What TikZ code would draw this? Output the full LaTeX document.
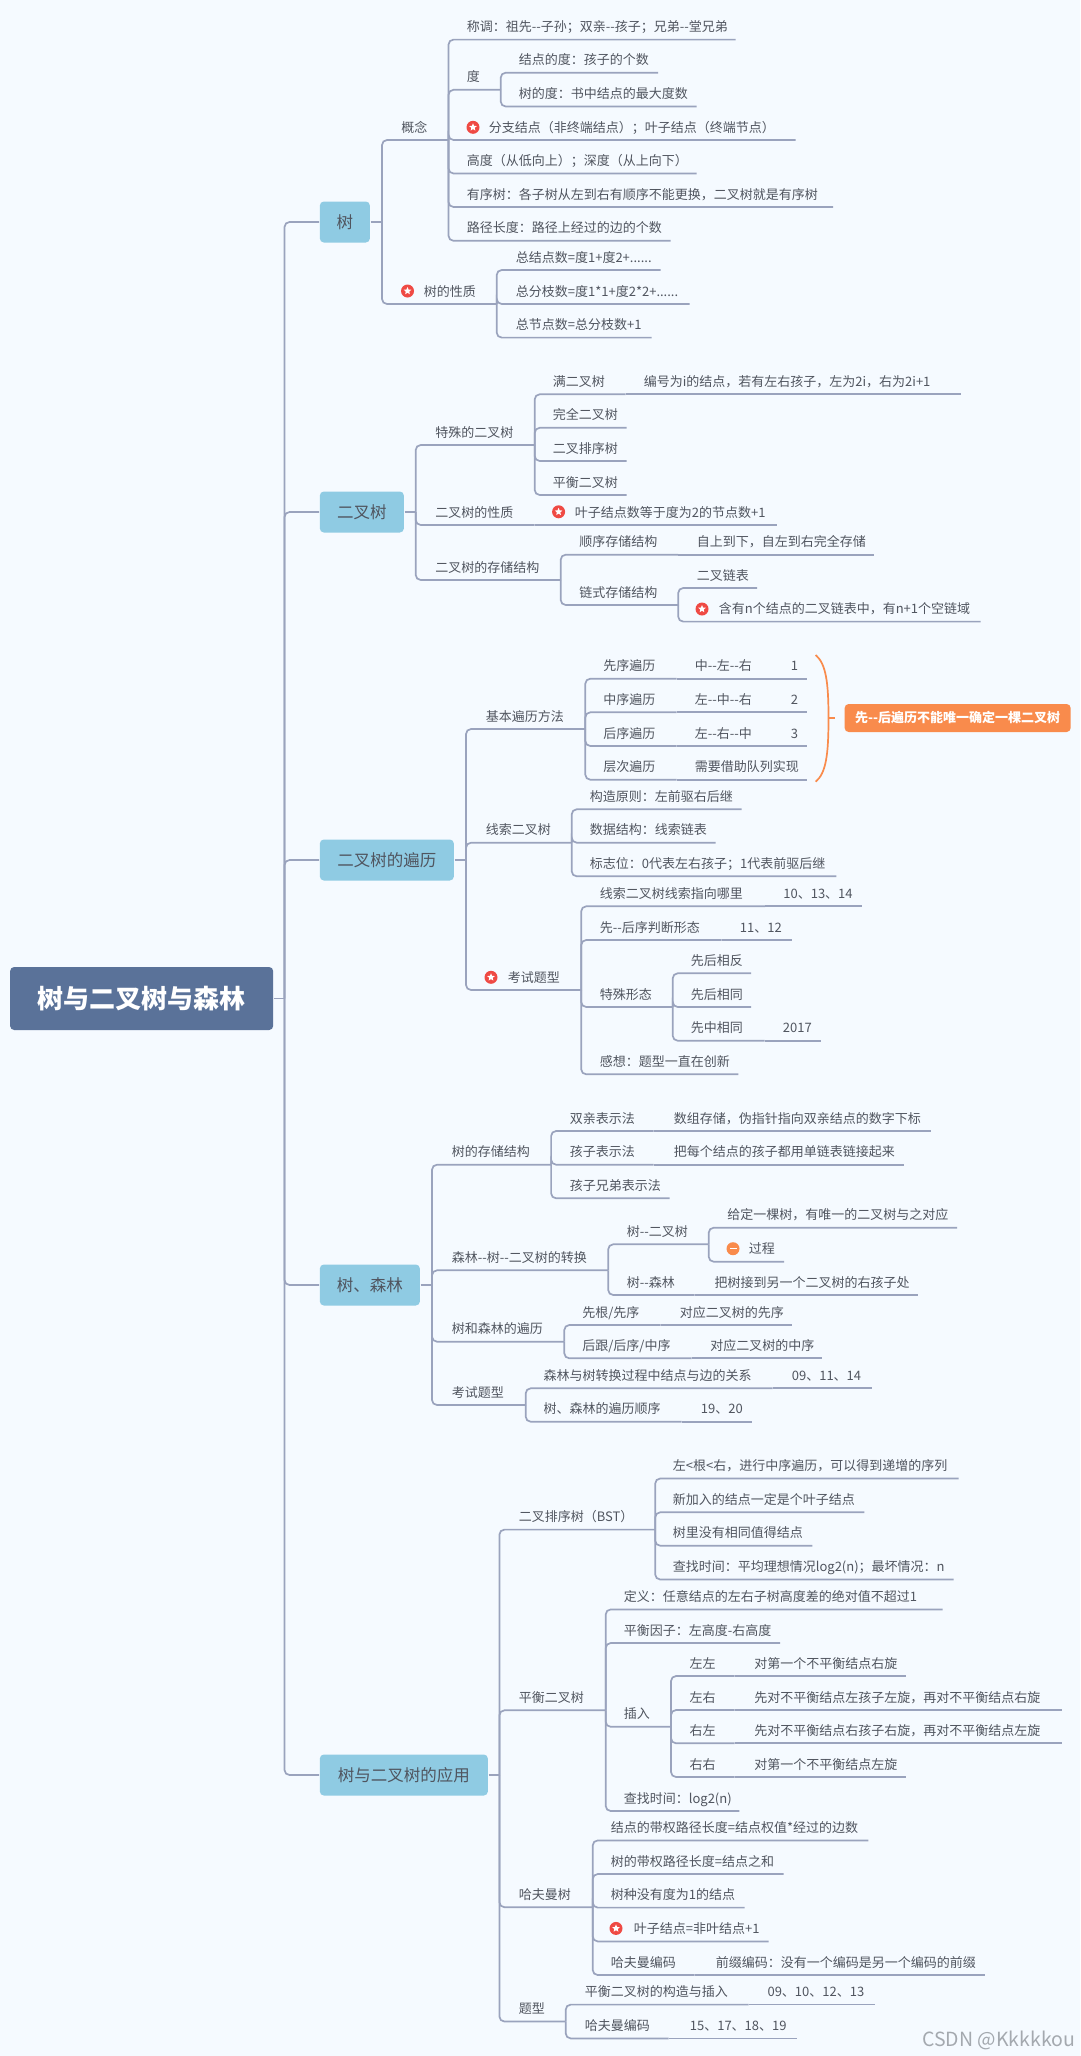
\documentclass[tikz,border=0pt]{standalone}
\usepackage{fontspec}
\setmainfont{Noto Sans CJK SC}
\usetikzlibrary{shapes.geometric}
\definecolor{pagebg}{HTML}{F5FAFF}
\definecolor{linegray}{HTML}{9AA3BD}
\definecolor{textgray}{HTML}{50555F}
\definecolor{boxblue}{HTML}{8FCBE3}
\definecolor{boxdark}{HTML}{5A7299}
\definecolor{noteorange}{HTML}{F98B4C}
\definecolor{iconred}{HTML}{EF4A44}
\definecolor{markgray}{HTML}{A4A9AF}

\begin{document}
\begin{tikzpicture}[x=1pt, y=-1pt, line width=1.7pt, font=\fontsize{13}{16}\selectfont,
  topic/.style={anchor=south west, inner xsep=0pt, inner ysep=4pt, text height=11pt, text depth=3pt,
    align=left, text=textgray, text width=#1pt},
  branch/.style={linegray, rounded corners=5pt},
  mainbox/.style={anchor=west, fill=boxblue, rounded corners=4pt, inner sep=0pt, minimum height=41pt,
    text=textgray, font=\fontsize{16.5}{20}\selectfont, minimum width=#1pt},
  rootbox/.style={anchor=west, fill=boxdark, rounded corners=4pt, inner sep=0pt, minimum height=63pt,
    minimum width=263pt, text=white, font=\fontsize{26}{30}\selectfont\bfseries},
  notebox/.style={anchor=west, fill=noteorange, rounded corners=4pt, inner sep=0pt, minimum height=28pt,
    minimum width=226pt, text=white, font=\fontsize{13}{16}\selectfont\bfseries},
  starmark/.style={circle, fill=iconred, minimum size=13pt, inner sep=0pt, path picture={
    \node[star, star points=5, star point ratio=2.2, fill=white, inner sep=0pt, minimum size=8pt]
      at (path picture bounding box.center) {};}},
  minusmark/.style={circle, fill=noteorange, minimum size=13pt, inner sep=0pt, path picture={
    \fill[white] ([shift={(-3.5pt,-0.7pt)}]path picture bounding box.center) rectangle ++(7pt,1.4pt);}}]
  \fill[pagebg] (0,0) rectangle (1080,2056);

  % centre
  \node[rootbox] (root) at (9.3,998.5) {树与二叉树与森林};
  \coordinate (rootT) at (284.5,998.5);
  \draw[linegray] (root.east) -- (rootT);
  \node[mainbox=50] (shu) at (319,222) {树};
  \node[mainbox=84] (erchashu) at (319,512) {二叉树};
  \node[mainbox=134] (bianli) at (319,860) {二叉树的遍历};
  \node[mainbox=100] (senlin) at (319,1285) {树、森林};
  \node[mainbox=168] (yingyong) at (319,1775) {树与二叉树的应用};
  \draw[branch] (rootT) |- (shu.west);
  \draw[branch] (rootT) |- (erchashu.west);
  \draw[branch] (rootT) |- (bianli.west);
  \draw[branch] (rootT) |- (senlin.west);
  \draw[branch] (rootT) |- (yingyong.west);

  % tree
  \coordinate (shuT) at (382,222);
  \draw[linegray] (shu.east) -- (shuT);
  \node[topic=46.4] (gainian) at (400.4,140) {概念};
  \draw[branch] (shuT) |- (gainian.south east);
  \node[topic=268] (chengwei) at (466,39.6) {称调：祖先-{}-子孙；双亲-{}-孩子；兄弟-{}-堂兄弟};
  \node[topic=33] (du) at (466,89.8) {度};
  \node[topic=138.5] (jiedu) at (518,72.7) {结点的度：孩子的个数};
  \node[topic=177] (shudu) at (518,106.5) {树的度：书中结点的最大度数};
  \node[starmark] (fenzhiM) at (473,127.3) {};
  \node[topic=306] (fenzhi) at (488,140) {分支结点（非终端结点）；叶子结点（终端节点）};
  \node[topic=229] (gaodu) at (466,173.5) {高度（从低向上）；深度（从上向下）};
  \node[topic=365.5] (youxu) at (466,207) {有序树：各子树从左到右有顺序不能更换，二叉树就是有序树};
  \node[topic=203] (lujing) at (466,240.8) {路径长度：路径上经过的边的个数};
  \draw[branch] (gainian.south east) |- (chengwei.south east);
  \draw[branch] (gainian.south east) |- (du.south east);
  \draw[branch] (du.south east) |- (jiedu.south east);
  \draw[branch] (du.south east) |- (shudu.south east);
  \draw[branch] (gainian.south east) |- (fenzhi.south east);
  \draw[branch] (gainian.south east) |- (gaodu.south east);
  \draw[branch] (gainian.south east) |- (youxu.south east);
  \draw[branch] (gainian.south east) |- (lujing.south east);
  \node[starmark] (xingzhiM) at (407.5,291) {};
  \node[topic=72] (xingzhi) at (423,304) {树的性质};
  \node[topic=144] (zongjie) at (515,270) {总结点数=度1+度2+......};
  \node[topic=173] (zongfen) at (515,304) {总分枝数=度1*1+度2*2+......};
  \node[topic=135] (zongjd) at (515,337.6) {总节点数=总分枝数+1};
  \draw[branch] (shuT) |- (xingzhi.south east);
  \draw[branch] (xingzhi.south east) |- (zongjie.south east);
  \draw[branch] (xingzhi.south east) |- (zongfen.south east);
  \draw[branch] (xingzhi.south east) |- (zongjd.south east);

  % binary tree
  \coordinate (erchaT) at (415.7,512);
  \draw[linegray] (erchashu.east) -- (erchaT);
  \node[topic=98.4] (teshu) at (434.6,445) {特殊的二叉树};
  \node[topic=72] (man) at (552,394.3) {满二叉树};
  \node[topic=316.6] (bianhao) at (643,394.3) {编号为i的结点，若有左右孩子，左为2i，右为2i+1};
  \node[topic=73] (wanquan) at (552,427.8) {完全二叉树};
  \node[topic=73] (paixu) at (552,461) {二叉排序树};
  \node[topic=73] (pingheng) at (552,495) {平衡二叉树};
  \draw[branch] (erchaT) |- (teshu.south east);
  \draw[branch] (teshu.south east) |- (man.south east);
  \draw[branch] (man.south east) -- (bianhao.south east);
  \draw[branch] (teshu.south east) |- (wanquan.south east);
  \draw[branch] (teshu.south east) |- (paixu.south east);
  \draw[branch] (teshu.south east) |- (pingheng.south east);
  \node[topic=98.4] (erxing) at (434.6,525) {二叉树的性质};
  \node[starmark] (yeshuM) at (558.6,511.8) {};
  \node[topic=201] (yeshu) at (574,525) {叶子结点数等于度为2的节点数+1};
  \draw[branch] (erchaT) |- (erxing.south east);
  \draw[branch] (erxing.south east) -- (yeshu.south east);
  \node[topic=124.4] (cunchu) at (434.6,580) {二叉树的存储结构};
  \node[topic=98] (shunxu) at (578.5,554.7) {顺序存储结构};
  \node[topic=176] (zishang) at (696,554.7) {自上到下，自左到右完全存储};
  \node[topic=98] (lianshi) at (578.5,605) {链式存储结构};
  \node[topic=59.5] (erlian) at (696,588) {二叉链表};
  \node[starmark] (hanyouM) at (702,609) {};
  \node[topic=261] (hanyou) at (718,621.6) {含有n个结点的二叉链表中，有n+1个空链域};
  \draw[branch] (erchaT) |- (cunchu.south east);
  \draw[branch] (cunchu.south east) |- (shunxu.south east);
  \draw[branch] (shunxu.south east) -- (zishang.south east);
  \draw[branch] (cunchu.south east) |- (lianshi.south east);
  \draw[branch] (lianshi.south east) |- (erlian.south east);
  \draw[branch] (lianshi.south east) |- (hanyou.south east);

  % traversal
  \coordinate (bianliT) at (466,860);
  \draw[linegray] (bianli.east) -- (bianliT);
  \node[topic=98.6] (jiben) at (485,729) {基本遍历方法};
  \node[topic=72.5] (xianxu) at (602.5,678.7) {先序遍历};
  \node[topic=74] (xianshun) at (694,678.7) {中-{}-左-{}-右};
  \node[topic=15.5] (xiannum) at (790,678.7) {1};
  \node[topic=72.5] (zhongxu) at (602.5,712.3) {中序遍历};
  \node[topic=74] (zhongshun) at (694,712.3) {左-{}-中-{}-右};
  \node[topic=15.5] (zhongnum) at (790,712.3) {2};
  \node[topic=72.5] (houxu) at (602.5,746) {后序遍历};
  \node[topic=74] (houshun) at (694,746) {左-{}-右-{}-中};
  \node[topic=15.5] (hounum) at (790,746) {3};
  \node[topic=72.5] (cengci) at (602.5,779.7) {层次遍历};
  \node[topic=111.5] (duilie) at (694,779.7) {需要借助队列实现};
  \draw[branch] (bianliT) |- (jiben.south east);
  \draw[branch] (jiben.south east) |- (xianxu.south east);
  \draw[branch] (xianxu.south east) -- (xianshun.south east) -- (xiannum.south east);
  \draw[branch] (jiben.south east) |- (zhongxu.south east);
  \draw[branch] (zhongxu.south east) -- (zhongshun.south east) -- (zhongnum.south east);
  \draw[branch] (jiben.south east) |- (houxu.south east);
  \draw[branch] (houxu.south east) -- (houshun.south east) -- (hounum.south east);
  \draw[branch] (jiben.south east) |- (cengci.south east);
  \draw[branch] (cengci.south east) -- (duilie.south east);
  \node[notebox] (zhushi) at (843.8,718) {先-{}-后遍历不能唯一确定一棵二叉树};
  \coordinate (kuoA) at (815.7,655);
  \coordinate (kuoB) at (815.7,781.7);
  \coordinate (kuoM) at (828.5,718.3);
  \coordinate (kuoT) at (835,718.3);
  \draw[noteorange] (kuoA) .. controls (826,664) and (828.5,682) .. (kuoM)
    .. controls (828.5,755) and (826,773) .. (kuoB);
  \draw[noteorange] (kuoM) -- (kuoT);
  \node[topic=85] (xiansuo) at (485,842.7) {线索二叉树};
  \node[topic=151] (gouzao) at (589,809.3) {构造原则：左前驱右后继};
  \node[topic=125] (shuju) at (589,842.7) {数据结构：线索链表};
  \node[topic=245.6] (biaozhi) at (589,876.3) {标志位：0代表左右孩子；1代表前驱后继};
  \draw[branch] (bianliT) |- (xiansuo.south east);
  \draw[branch] (xiansuo.south east) |- (gouzao.south east);
  \draw[branch] (xiansuo.south east) |- (shuju.south east);
  \draw[branch] (xiansuo.south east) |- (biaozhi.south east);
  \node[starmark] (kaotiM) at (491,977.3) {};
  \node[topic=72.5] (kaoti) at (507,990) {考试题型};
  \node[topic=164.5] (zhixiang) at (599,906.3) {线索二叉树线索指向哪里};
  \node[topic=78] (zhinum) at (782.5,906.3) {10、13、14};
  \node[topic=121] (panduan) at (599,940) {先-{}-后序判断形态};
  \node[topic=51] (pannum) at (739,940) {11、12};
  \node[topic=72] (xingtai) at (599,1007) {特殊形态};
  \node[topic=59.4] (xiangfan) at (690,973.3) {先后相反};
  \node[topic=59.4] (xiangtong) at (690,1007) {先后相同};
  \node[topic=73] (xianzhong) at (690,1040.7) {先中相同};
  \node[topic=37] (zhongnian) at (782,1040.7) {2017};
  \node[topic=137.6] (ganxiang) at (599,1074.3) {感想：题型一直在创新};
  \draw[branch] (bianliT) |- (kaoti.south east);
  \draw[branch] (kaoti.south east) |- (zhixiang.south east);
  \draw[branch] (zhixiang.south east) -- (zhinum.south east);
  \draw[branch] (kaoti.south east) |- (panduan.south east);
  \draw[branch] (panduan.south east) -- (pannum.south east);
  \draw[branch] (kaoti.south east) |- (xingtai.south east);
  \draw[branch] (xingtai.south east) |- (xiangfan.south east);
  \draw[branch] (xingtai.south east) |- (xiangtong.south east);
  \draw[branch] (xingtai.south east) |- (xianzhong.south east);
  \draw[branch] (xianzhong.south east) -- (zhongnian.south east);
  \draw[branch] (kaoti.south east) |- (ganxiang.south east);

  % forest
  \coordinate (senlinT) at (432,1285);
  \draw[linegray] (senlin.east) -- (senlinT);
  \node[topic=98.4] (shucun) at (451,1164.7) {树的存储结构};
  \node[topic=83] (shuangqin) at (569,1131) {双亲表示法};
  \node[topic=256] (shuzu) at (673,1131) {数组存储，伪指针指向双亲结点的数字下标};
  \node[topic=83] (haizi) at (569,1164.7) {孩子表示法};
  \node[topic=229.4] (danlian) at (673,1164.7) {把每个结点的孩子都用单链表链接起来};
  \node[topic=98.8] (xiongdi) at (569,1198.3) {孩子兄弟表示法};
  \draw[branch] (senlinT) |- (shucun.south east);
  \draw[branch] (shucun.south east) |- (shuangqin.south east);
  \draw[branch] (shuangqin.south east) -- (shuzu.south east);
  \draw[branch] (shucun.south east) |- (haizi.south east);
  \draw[branch] (haizi.south east) -- (danlian.south east);
  \draw[branch] (shucun.south east) |- (xiongdi.south east);
  \node[topic=155.5] (zhuanhuan) at (451,1270.3) {森林-{}-树-{}-二叉树的转换};
  \node[topic=81] (shuer) at (626,1244.3) {树-{}-二叉树};
  \node[topic=229] (geiding) at (726.4,1227.7) {给定一棵树，有唯一的二叉树与之对应};
  \node[minusmark] (guochengM) at (733,1248.7) {};
  \node[topic=34.5] (guocheng) at (748,1261.7) {过程};
  \node[topic=67] (shusen) at (626,1295) {树-{}-森林};
  \node[topic=203] (jiedao) at (713.7,1295) {把树接到另一个二叉树的右孩子处};
  \draw[branch] (senlinT) |- (zhuanhuan.south east);
  \draw[branch] (zhuanhuan.south east) |- (shuer.south east);
  \draw[branch] (shuer.south east) |- (geiding.south east);
  \draw[branch] (shuer.south east) |- (guocheng.south east);
  \draw[branch] (zhuanhuan.south east) |- (shusen.south east);
  \draw[branch] (shusen.south east) -- (jiedao.south east);
  \node[topic=111.6] (senbian) at (451,1341.7) {树和森林的遍历};
  \node[topic=77.5] (xiangen) at (581.5,1325) {先根/先序};
  \node[topic=111.7] (duixian) at (679,1325) {对应二叉树的先序};
  \node[topic=108.5] (hougen) at (581.5,1358.3) {后跟/后序/中序};
  \node[topic=111] (duizhong) at (709.6,1358.3) {对应二叉树的中序};
  \draw[branch] (senlinT) |- (senbian.south east);
  \draw[branch] (senbian.south east) |- (xiangen.south east);
  \draw[branch] (xiangen.south east) -- (duixian.south east);
  \draw[branch] (senbian.south east) |- (hougen.south east);
  \draw[branch] (hougen.south east) -- (duizhong.south east);
  \node[topic=73] (senkao) at (451,1405) {考试题型};
  \node[topic=228] (guanxi) at (542.8,1388.3) {森林与树转换过程中结点与边的关系};
  \node[topic=79] (guannum) at (791,1388.3) {09、11、14};
  \node[topic=137] (shunxuti) at (542.8,1421.7) {树、森林的遍历顺序};
  \node[topic=50.4] (shunnum) at (700,1421.7) {19、20};
  \draw[branch] (senlinT) |- (senkao.south east);
  \draw[branch] (senkao.south east) |- (guanxi.south east);
  \draw[branch] (guanxi.south east) -- (guannum.south east);
  \draw[branch] (senkao.south east) |- (shunxuti.south east);
  \draw[branch] (shunxuti.south east) -- (shunnum.south east);

  % application
  \coordinate (yingT) at (499.4,1775);
  \draw[linegray] (yingyong.east) -- (yingT);
  \node[topic=135.5] (bst) at (518,1529.6) {二叉排序树（BST）};
  \node[topic=285] (zuogen) at (672,1478.5) {左<根<右，进行中序遍历，可以得到递增的序列};
  \node[topic=190.6] (xinjia) at (672,1512.3) {新加入的结点一定是个叶子结点};
  \node[topic=138.6] (shuli) at (672,1545.7) {树里没有相同值得结点};
  \node[topic=280] (chazhao) at (672,1579.5) {查找时间：平均理想情况log2(n)；最坏情况：n};
  \draw[branch] (yingT) |- (bst.south east);
  \draw[branch] (bst.south east) |- (zuogen.south east);
  \draw[branch] (bst.south east) |- (xinjia.south east);
  \draw[branch] (bst.south east) |- (shuli.south east);
  \draw[branch] (bst.south east) |- (chazhao.south east);
  \node[topic=86] (avl) at (518,1710.3) {平衡二叉树};
  \node[topic=318] (dingyi) at (623,1609.4) {定义：任意结点的左右子树高度差的绝对值不超过1};
  \node[topic=155.5] (yinzi) at (623,1643) {平衡因子：左高度-右高度};
  \node[topic=46.3] (charu) at (623,1726.8) {插入};
  \node[topic=44.3] (ll) at (688.7,1676) {左左};
  \node[topic=151] (llx) at (753.5,1676) {对第一个不平衡结点右旋};
  \node[topic=44.3] (lr) at (688.7,1710) {左右};
  \node[topic=307] (lrx) at (753.5,1710) {先对不平衡结点左孩子左旋，再对不平衡结点右旋};
  \node[topic=44.3] (rl) at (688.7,1743.3) {右左};
  \node[topic=307] (rlx) at (753.5,1743.3) {先对不平衡结点右孩子右旋，再对不平衡结点左旋};
  \node[topic=44.3] (rr) at (688.7,1777) {右右};
  \node[topic=151] (rrx) at (753.5,1777) {对第一个不平衡结点左旋};
  \node[topic=114.6] (chalog) at (623,1811) {查找时间：log2(n)};
  \draw[branch] (yingT) |- (avl.south east);
  \draw[branch] (avl.south east) |- (dingyi.south east);
  \draw[branch] (avl.south east) |- (yinzi.south east);
  \draw[branch] (avl.south east) |- (charu.south east);
  \draw[branch] (charu.south east) |- (ll.south east);
  \draw[branch] (ll.south east) -- (llx.south east);
  \draw[branch] (charu.south east) |- (lr.south east);
  \draw[branch] (lr.south east) -- (lrx.south east);
  \draw[branch] (charu.south east) |- (rl.south east);
  \draw[branch] (rl.south east) -- (rlx.south east);
  \draw[branch] (charu.south east) |- (rr.south east);
  \draw[branch] (rr.south east) -- (rrx.south east);
  \draw[branch] (avl.south east) |- (chalog.south east);
  \node[topic=73] (hafu) at (518,1907.2) {哈夫曼树};
  \node[topic=256.7] (daiquan) at (610,1840.4) {结点的带权路径长度=结点权值*经过的边数};
  \node[topic=172] (shudai) at (610,1874) {树的带权路径长度=结点之和};
  \node[topic=132.8] (shuzhong) at (610,1907.6) {树种没有度为1的结点};
  \node[starmark] (yejieM) at (616,1928.4) {};
  \node[topic=134] (yejie) at (633,1941.4) {叶子结点=非叶结点+1};
  \node[topic=83] (bianma) at (610,1975) {哈夫曼编码};
  \node[topic=268] (qianzhui) at (715,1975) {前缀编码：没有一个编码是另一个编码的前缀};
  \draw[branch] (yingT) |- (hafu.south east);
  \draw[branch] (hafu.south east) |- (daiquan.south east);
  \draw[branch] (hafu.south east) |- (shudai.south east);
  \draw[branch] (hafu.south east) |- (shuzhong.south east);
  \draw[branch] (hafu.south east) |- (yejie.south east);
  \draw[branch] (hafu.south east) |- (bianma.south east);
  \draw[branch] (bianma.south east) -- (qianzhui.south east);
  \node[topic=46] (tixing) at (518,2021.5) {题型};
  \node[topic=163] (goucha) at (584,2004.6) {平衡二叉树的构造与插入};
  \node[topic=106.7] (gouchanum) at (766.7,2004.6) {09、10、12、13};
  \node[topic=83] (hafuma) at (584,2038.4) {哈夫曼编码};
  \node[topic=106] (hafunum) at (689,2038.4) {15、17、18、19};
  \draw[branch] (yingT) |- (tixing.south east);
  \draw[branch] (tixing.south east) |- (goucha.south east);
  \draw[branch] (goucha.south east) -- (gouchanum.south east);
  \draw[branch] (tixing.south east) |- (hafuma.south east);
  \draw[branch] (hafuma.south east) -- (hafunum.south east);

  \node[anchor=east, inner sep=0pt, text=markgray, font=\fontsize{19.5}{22}\selectfont] (shuiyin) at (1076,2040) {CSDN @Kkkkkou};
\end{tikzpicture}
\end{document}
